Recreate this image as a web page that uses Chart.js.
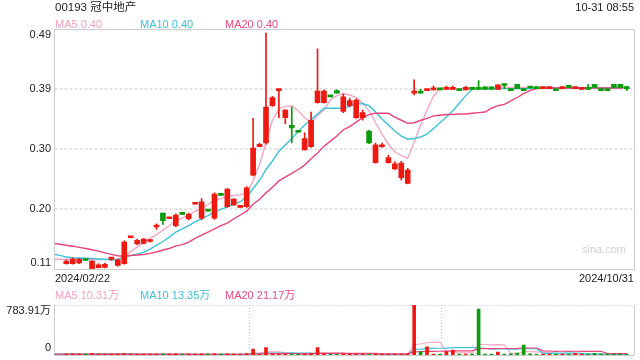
<!DOCTYPE html>
<html>
<head>
<meta charset="utf-8">
<script src="https://cdn.jsdelivr.net/npm/chart.js@4.4.1/dist/chart.umd.min.js"></script>
<style>
  body { margin: 0; background: #fff; width: 640px; height: 360px; overflow: hidden; position: relative;
         font-family: "Liberation Sans", Arial, "Noto Sans CJK SC", sans-serif; }
  .t { position: absolute; white-space: nowrap; font-size: 11px; line-height: 14px; height: 14px; color: #222; }
  canvas { position: absolute; left: 0; }
  #main { top: 0; }
  #vol { top: 290px; }
</style>
</head>
<body>
<canvas id="main" width="640" height="290"></canvas>
<canvas id="vol" width="640" height="70"></canvas>

<div class="t" style="left:55px;top:0px;font-size:11.5px;">00193 冠中地产</div>
<div class="t" style="right:6px;top:0px;">10-31 08:55</div>
<div class="t" style="left:55px;top:17px;color:#f7a1c1;">MA5 0.40</div>
<div class="t" style="left:140px;top:17px;color:#3cc3dc;">MA10 0.40</div>
<div class="t" style="left:225px;top:17px;color:#ea4a80;">MA20 0.40</div>
<div class="t" style="left:582px;top:242px;color:#cfcfcf;">sina.com</div>
<div class="t" style="left:55px;top:271px;">2024/02/22</div>
<div class="t" style="right:6px;top:271px;">2024/10/31</div>
<div class="t" style="left:55px;top:288px;color:#f7a1c1;">MA5 10.31万</div>
<div class="t" style="left:140px;top:288px;color:#3cc3dc;">MA10 13.35万</div>
<div class="t" style="left:225px;top:288px;color:#ea4a80;">MA20 21.17万</div>

<script>
// daily candles, index 0 = 2024/02/22 ... 87 = 2024/10/31
const openP = [
  .119, .119, .120, .125, .111, .1125, .113, .126, .116, .119,
  .160, .150, .151, .154, .177, .199, .190, .179, .198, .190,
  .213, .191, .203, .191, .228, .209, .212, .208, .209, .259,
  .304, .310, .369, .393, .350, .338, .328, .299, .304, .374,
  .374, .384, .393, .360, .369, .350, .350, .329, .279, .304,
  .279, .269, .255, .246, .389, .390, .393, .394, .395, .395,
  .395, .394, .394, .396, .396, .399, .399, .395, .402, .394,
  .403, .394, .398, .399, .396, .396, .394, .396, .399, .396,
  .395, .396, .403, .394, .394, .403, .403, .397
];
const closeP = [
  .123, .126, .126, .124, .123, .117, .118, .127, .125, .153,
  .161, .156, .158, .155, .178, .187, .191, .196, .197, .197,
  .214, .217, .202, .229, .227, .237, .221, .209, .239, .302,
  .308, .367, .382, .394, .362, .334, .327, .317, .346, .392,
  .392, .383, .389, .383, .377, .378, .358, .310, .307, .307,
  .287, .277, .278, .267, .390, .389, .394, .397, .394, .397,
  .397, .393, .398, .395, .395, .395, .395, .402, .401, .393,
  .396, .393, .397, .396, .399, .399, .393, .399, .398, .397,
  .396, .395, .398, .393, .393, .398, .398, .396
];
const highP = [
  .125, .128, .127, .125, .124, .119, .120, .128, .126, .155,
  .161, .158, .159, .157, .182, .199, .191, .198, .198, .199,
  .214, .222, .203, .231, .228, .238, .222, .209, .241, .349,
  .310, .484, .384, .394, .363, .367, .328, .326, .359, .459,
  .394, .384, .394, .388, .381, .380, .362, .330, .310, .310,
  .291, .280, .281, .270, .410, .395, .394, .400, .395, .400,
  .400, .394, .400, .396, .409, .399, .399, .402, .402, .394,
  .403, .394, .398, .399, .399, .399, .394, .399, .399, .397,
  .396, .403, .403, .394, .394, .403, .403, .400
];
const lowP = [
  .118, .118, .119, .124, .110, .112, .112, .124, .115, .118,
  .160, .149, .150, .153, .173, .181, .190, .177, .197, .188,
  .213, .188, .202, .189, .227, .208, .211, .208, .208, .258,
  .304, .308, .368, .350, .340, .310, .327, .299, .303, .373,
  .373, .383, .389, .358, .367, .349, .346, .309, .278, .303,
  .278, .268, .251, .245, .386, .389, .393, .394, .394, .395,
  .395, .393, .394, .395, .395, .395, .395, .395, .396, .393,
  .396, .393, .397, .396, .396, .396, .393, .396, .398, .396,
  .395, .395, .398, .393, .393, .398, .398, .393
];
// volume, 万股
const volume = [
  12, 18, 10, 5, 25, 15, 14, 6, 16, 22,
  6, 14, 12, 5, 8, 15, 4, 18, 5, 10,
  4, 20, 5, 22, 4, 18, 10, 4, 24, 94,
  8, 115, 20, 12, 14, 10, 4, 12, 25, 115,
  18, 5, 6, 14, 10, 16, 8, 12, 16, 6,
  10, 8, 14, 12, 783.91, 52, 130, 14, 10, 52,
  78, 8, 16, 10, 721, 12, 10, 47, 8, 20,
  30, 157, 20, 12, 10, 12, 6, 14, 8, 25,
  12, 10, 27, 8, 6, 15, 12.5, 10
];

// moving averages, first value sits two sessions before 2024/02/22
const ma5 = [
  .126, .126, .126, .126, .126, .126, .1255, .1253, .1253, .1255, .126, .131,
  .138, .145, .152, .159, .165, .172, .179, .1865, .191, .196,
  .202, .2055, .213, .219, .222, .2245, .227, .228, .231, .250,
  .276, .310, .346, .364, .368, .369, .361, .350, .343, .353,
  .362, .378, .385, .388, .386, .382, .373, .361, .342, .324,
  .308, .296, .290, .286, .311, .338, .362, .384, .396, .397,
  .396, .396, .396, .397, .396, .396, .396, .397, .398, .398,
  .397, .398, .397, .397, .397, .398, .397, .397, .397, .397,
  .397, .397, .397, .398, .397, .397, .398, .398
];
const ma10 = [
  .134, .132, .1295, .1284, .128, .1274, .127, .1263, .1258, .1252, .125, .129,
  .132, .134, .137, .142, .148, .154, .161, .169, .174, .179,
  .185, .190, .195, .201, .205, .209, .213, .217, .2245, .238,
  .251, .268, .2815, .297, .307, .317, .328, .3385, .347, .356,
  .365, .365, .365, .365, .368, .372, .3725, .369, .359, .348,
  .3385, .329, .321, .316, .317, .3195, .324, .333, .342, .351,
  .361, .373, .385, .395, .396, .396, .396, .396, .396, .396,
  .396, .396, .396, .397, .397, .397, .397, .397, .397, .397,
  .397, .397, .397, .397, .397, .397, .397, .398
];
const ma20 = [
  .151, .1497, .148, .1466, .1448, .143, .141, .1387, .136, .1336, .1315, .131,
  .1318, .1326, .1334, .1353, .1374, .1406, .143, .147, .149, .153,
  .159, .164, .169, .174, .179, .183, .190, .196, .202, .213,
  .221, .231, .240, .250, .256, .262, .268, .275, .285, .294,
  .305, .313, .321, .331, .336, .343, .350, .355, .357, .357,
  .357, .351, .346, .341, .342, .346, .349, .353, .354, .355,
  .355, .356, .356, .357, .358, .359, .365, .369, .371, .3765,
  .382, .388, .393, .396, .397, .397, .397, .397, .397, .397,
  .397, .397, .397, .397, .397, .397, .397, .398
];
const vma5 = [
  12, 13, 13, 14, 14, 12, 14, 15, 13, 14, 16, 14,
  13, 12, 11, 10, 9, 10, 10, 9, 11, 10,
  11, 10, 13, 12, 12, 10, 13, 12, 12, 29,
  30, 50, 50, 50, 32, 34, 12, 11, 13, 33,
  34, 35, 34, 32, 11, 11, 11, 12, 12, 11,
  12, 12, 11, 12, 165, 172, 196, 198, 198, 52,
  57, 32, 33, 33, 167, 165, 158, 162, 160, 20,
  24, 55, 54, 48, 46, 49, 12, 11, 10, 13,
  16, 15, 19, 16, 15, 13, 14, 10.31
];
const vma10 = [
  13, 13, 14, 14, 13, 13, 14, 14, 14, 13, 13, 14,
  14, 13, 12, 12, 11, 11, 12, 11, 11, 11,
  11, 11, 12, 12, 11, 11, 12, 12, 12, 20,
  21, 31, 31, 31, 31, 32, 31, 31, 31, 23,
  23, 23, 23, 23, 22, 22, 22, 22, 22, 12,
  12, 12, 12, 12, 88, 92, 104, 105, 106, 108,
  115, 115, 116, 116, 110, 106, 93, 97, 97, 93,
  90, 98, 98, 98, 26, 26, 30, 30, 30, 31,
  27, 15, 17, 16, 15, 15, 14, 13.35
];
const vma20 = [
  14, 14, 14, 14, 14, 14, 14, 14, 14, 14, 14, 14,
  14, 13, 13, 13, 13, 13, 13, 13, 13, 13,
  12, 12, 12, 12, 12, 12, 12, 12, 12, 16,
  16, 21, 21, 21, 21, 21, 21, 21, 21, 26,
  26, 26, 26, 26, 26, 26, 26, 26, 26, 17,
  17, 17, 17, 17, 50, 52, 58, 58, 59, 61,
  64, 64, 65, 65, 100, 100, 100, 102, 102, 102,
  103, 110, 110, 110, 64, 63, 58, 59, 58, 59,
  58, 57, 58, 58, 21, 21, 21, 21.17
];

const priceTicks = [0.49, 0.395, 0.30, 0.205, 0.11];
const priceTickLabels = ['0.49', '0.39', '0.30', '0.20', '0.11'];
const volMax = 783.91;
const volTickLabels = ['783.91万', '0'];
const monthSplits = [28.3, 58.1];

const UP = '#ee1a12';
const DOWN = '#0b9c0b';
const C5 = '#f7a6c5';
const C10 = '#3cc3dc';
const C20 = '#e9457d';
const LABEL_FONT = '11px "Liberation Sans", Arial, "Noto Sans CJK SC", sans-serif';

const X_MIN = -1.83, X_MAX = 88.17;
const candleColors = openP.map((o, i) => closeP[i] >= o ? UP : DOWN);
const maX = i => i - 2;

const mainDecor = {
  id: 'mainDecor',
  beforeDatasetsDraw(chart) {
    const { ctx, chartArea: a, scales: { y } } = chart;
    ctx.save();
    ctx.strokeStyle = '#e4e4e4';
    ctx.lineWidth = 2;
    ctx.setLineDash([3, 2]);
    priceTicks.slice(1, -1).forEach(v => {
      const py = Math.round(y.getPixelForValue(v));
      ctx.beginPath();
      ctx.moveTo(a.left, py);
      ctx.lineTo(a.right, py);
      ctx.stroke();
    });
    ctx.restore();
  },
  afterDraw(chart) {
    const { ctx, chartArea: a, scales: { y } } = chart;
    ctx.save();
    ctx.strokeStyle = '#cccccc';
    ctx.lineWidth = 1;
    ctx.strokeRect(Math.floor(a.left) + 0.5, Math.floor(a.top) + 0.5,
      Math.round(a.right - a.left), Math.round(a.bottom - a.top));
    ctx.fillStyle = '#222';
    ctx.font = LABEL_FONT;
    ctx.textAlign = 'right';
    priceTicks.forEach((v, i) => {
      let py = y.getPixelForValue(v);
      if (i === 0) py += 6;
      if (i === priceTicks.length - 1) py -= 6;
      ctx.textBaseline = 'middle';
      ctx.fillText(priceTickLabels[i], 51, py);
    });
    ctx.restore();
  }
};

const volDecor = {
  id: 'volDecor',
  beforeDatasetsDraw(chart) {
    const { ctx, chartArea: a, scales: { x } } = chart;
    ctx.save();
    ctx.strokeStyle = '#c4c4c4';
    ctx.lineWidth = 1;
    ctx.setLineDash([1, 2]);
    const top = Math.floor(a.top) + 0.5;
    ctx.beginPath();
    ctx.moveTo(a.left, top);
    ctx.lineTo(a.right, top);
    monthSplits.forEach(k => {
      const px = Math.round(x.getPixelForValue(k)) + 0.5;
      ctx.moveTo(px, a.top);
      ctx.lineTo(px, a.bottom);
    });
    ctx.stroke();
    ctx.setLineDash([]);
    ctx.strokeStyle = '#cccccc';
    ctx.beginPath();
    ctx.moveTo(Math.floor(a.left) + 0.5, a.top);
    ctx.lineTo(Math.floor(a.left) + 0.5, a.bottom);
    ctx.moveTo(Math.floor(a.right) + 0.5, a.top);
    ctx.lineTo(Math.floor(a.right) + 0.5, a.bottom);
    ctx.moveTo(a.left, Math.floor(a.bottom) + 0.5);
    ctx.lineTo(a.right, Math.floor(a.bottom) + 0.5);
    ctx.stroke();
    ctx.restore();
  },
  afterDraw(chart) {
    const { ctx, chartArea: a } = chart;
    ctx.save();
    ctx.fillStyle = '#222';
    ctx.font = LABEL_FONT;
    ctx.textAlign = 'right';
    ctx.textBaseline = 'middle';
    ctx.fillText(volTickLabels[0], 51, a.top + 6);
    ctx.fillText(volTickLabels[1], 51, a.bottom - 7);
    ctx.restore();
  }
};

function maLine(values, color, width) {
  return {
    type: 'line',
    data: values.map((v, i) => ({ x: maX(i), y: v })),
    borderColor: color,
    borderWidth: width,
    pointRadius: 0,
    tension: 0,
    order: 1
  };
}

new Chart(document.getElementById('main'), {
  type: 'bar',
  data: {
    datasets: [
      {
        data: lowP.map((l, i) => ({ x: i, y: [l, highP[i]] })),
        backgroundColor: candleColors,
        barThickness: 1,
        grouped: false,
        minBarLength: 1,
        order: 0
      },
      {
        data: openP.map((o, i) => ({ x: i, y: [o, closeP[i]] })),
        backgroundColor: candleColors,
        barThickness: 5,
        grouped: false,
        minBarLength: 2,
        order: 0
      },
      maLine(ma20, C20, 1.4),
      maLine(ma10, C10, 1.4),
      maLine(ma5, C5, 1.4)
    ]
  },
  options: {
    responsive: false,
    animation: false,
    events: [],
    layout: { padding: { left: 54.5, right: 5.7, top: 29.3, bottom: 20.7 } },
    scales: {
      x: { type: 'linear', min: X_MIN, max: X_MAX, offset: false, display: false },
      y: { type: 'linear', min: 0.11, max: 0.49, display: false }
    },
    plugins: { legend: { display: false }, tooltip: { enabled: false } }
  },
  plugins: [mainDecor]
});

new Chart(document.getElementById('vol'), {
  type: 'bar',
  data: {
    datasets: [
      {
        data: volume.map((v, i) => ({ x: i, y: v })),
        backgroundColor: candleColors,
        barThickness: 3,
        grouped: false,
        minBarLength: 1,
        order: 0
      },
      maLine(vma20, C20, 1.2),
      maLine(vma10, C10, 1.2),
      maLine(vma5, C5, 1.2)
    ]
  },
  options: {
    responsive: false,
    animation: false,
    events: [],
    layout: { padding: { left: 54.5, right: 5.7, top: 15, bottom: 5 } },
    scales: {
      x: { type: 'linear', min: X_MIN, max: X_MAX, offset: false, display: false },
      y: { type: 'linear', min: 0, max: volMax, display: false }
    },
    plugins: { legend: { display: false }, tooltip: { enabled: false } }
  },
  plugins: [volDecor]
});
</script>
</body>
</html>
